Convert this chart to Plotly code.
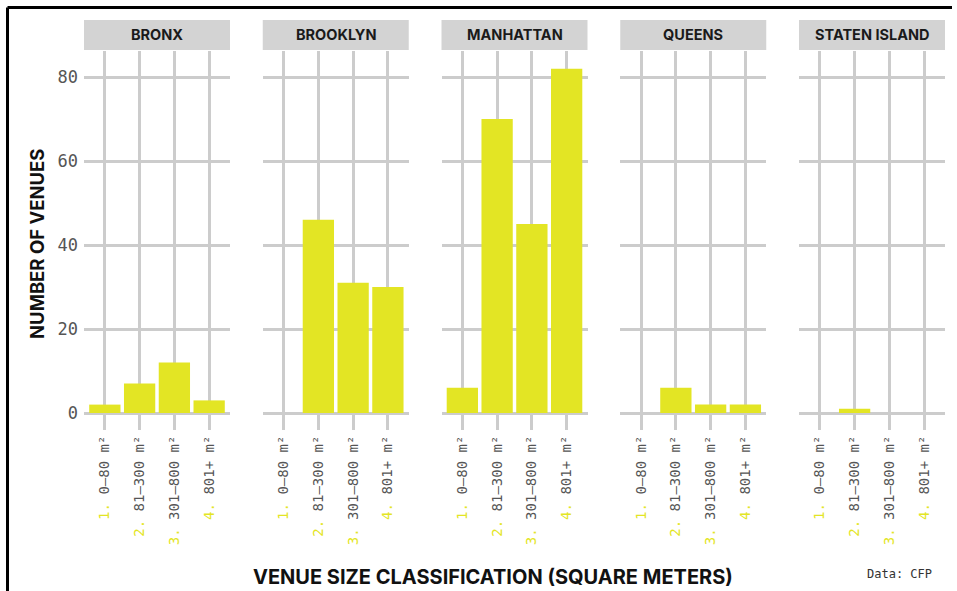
import plotly.graph_objects as go

# ---- data ----
boroughs = ["BRONX", "BROOKLYN", "MANHATTAN", "QUEENS", "STATEN ISLAND"]
size_classes = ["0–80 m²", "81–300 m²", "301–800 m²", "801+ m²"]
class_numbers = ["1.", "2.", "3.", "4."]
bronx = [2, 7, 12, 3]
brooklyn = [0, 46, 31, 30]
manhattan = [6, 70, 45, 82]
queens = [0, 6, 2, 2]
staten_island = [0, 1, 0, 0]
y_ticks = [0, 20, 40, 60, 80]

series = [bronx, brooklyn, manhattan, queens, staten_island]

# ---- style ----
YELLOW = "#e3e524"
GRID = "#cccccc"
STRIP = "#d3d3d3"
MONO = "DejaVu Sans Mono"
SANS = "Inter"

W, H = 957, 591
ML, MR, MT, MB = 84, 12, 51, 178
PW = W - ML - MR
PH = H - MT - MB

def px_x(p):
    return (p - ML) / PW

def px_y(p):
    return (H - MB - p) / PH

panel_w = 146
gap = (PW - 5 * panel_w) / 4

fig = go.Figure()
layout = {}
shapes = []
annotations = []

ticktext = [f"<span style='color:{YELLOW}'>{n}</span> {c}" for n, c in zip(class_numbers, size_classes)]

for i, (name, vals) in enumerate(zip(boroughs, series)):
    k = "" if i == 0 else str(i + 1)
    x0 = (i * (panel_w + gap)) / PW
    x1 = (i * (panel_w + gap) + panel_w) / PW
    fig.add_trace(go.Bar(
        x=size_classes, y=vals, xaxis="x" + k, yaxis="y" + k,
        marker=dict(color=YELLOW, line=dict(width=0)),
        showlegend=False, hoverinfo="x+y",
    ))
    layout["xaxis" + k] = dict(
        domain=[x0, x1], anchor="y" + k, type="category",
        categoryorder="array", categoryarray=size_classes,
        range=[-0.6, 3.6], showgrid=True, gridcolor=GRID, gridwidth=3,
        ticks="outside", ticklen=16, tickwidth=3, tickcolor=GRID,
        tickvals=size_classes, ticktext=ticktext, tickangle=-90,
        tickfont=dict(family=MONO, size=14, color="#555555"),
        showline=False, zeroline=False, fixedrange=True,
    )
    layout["yaxis" + k] = dict(
        domain=[0, 1], anchor="x" + k, range=[0, 86.2],
        tickvals=y_ticks, ticktext=[str(v) for v in y_ticks],
        showgrid=True, gridcolor=GRID, gridwidth=3,
        zeroline=True, zerolinecolor=GRID, zerolinewidth=3,
        showticklabels=(i == 0), ticks="", ticklabelstandoff=5,
        tickfont=dict(family=MONO, size=17, color="#555555"),
        showline=False, fixedrange=True,
    )
    # strip
    shapes.append(dict(type="rect", xref="paper", yref="paper",
                       x0=x0, x1=x1, y0=px_y(50), y1=px_y(20),
                       fillcolor=STRIP, line=dict(width=0), layer="below"))
    annotations.append(dict(xref="paper", yref="paper", x=(x0 + x1) / 2, y=px_y(35),
                            text=f"<b>{name}</b>", showarrow=False,
                            xanchor="center", yanchor="middle",
                            font=dict(family=SANS, size=14.5, color="#1a1a1a")))

# axis titles and caption
annotations.append(dict(xref="paper", yref="paper", x=px_x(37), y=px_y(244),
                        text="<b>NUMBER OF VENUES</b>", textangle=-90, showarrow=False,
                        xanchor="center", yanchor="middle",
                        font=dict(family=SANS, size=18.5, color="#111111")))
annotations.append(dict(xref="paper", yref="paper", x=px_x(493), y=px_y(577),
                        text="<b>VENUE SIZE CLASSIFICATION (SQUARE METERS)</b>", showarrow=False,
                        xanchor="center", yanchor="middle",
                        font=dict(family=SANS, size=20, color="#111111")))
annotations.append(dict(xref="paper", yref="paper", x=px_x(934), y=px_y(574),
                        text="Data: CFP", showarrow=False,
                        xanchor="right", yanchor="middle",
                        font=dict(family=MONO, size=12, color="#333333")))

# frame lines (top and left)
shapes.append(dict(type="line", xref="paper", yref="paper",
                   x0=px_x(7.5), x1=px_x(952), y0=px_y(7.5), y1=px_y(7.5),
                   line=dict(color="black", width=3)))
shapes.append(dict(type="line", xref="paper", yref="paper",
                   x0=px_x(7.5), x1=px_x(7.5), y0=px_y(7.5), y1=px_y(595),
                   line=dict(color="black", width=3)))

fig.update_layout(
    width=W, height=H,
    margin=dict(l=ML, r=MR, t=MT, b=MB, autoexpand=False),
    paper_bgcolor="white", plot_bgcolor="white",
    bargap=0.1, shapes=shapes, annotations=annotations,
    **layout,
)

fig.write_html("out.html", config={"displayModeBar": False},
               post_script="document.body.style.margin='0';document.body.style.overflow='hidden';")
